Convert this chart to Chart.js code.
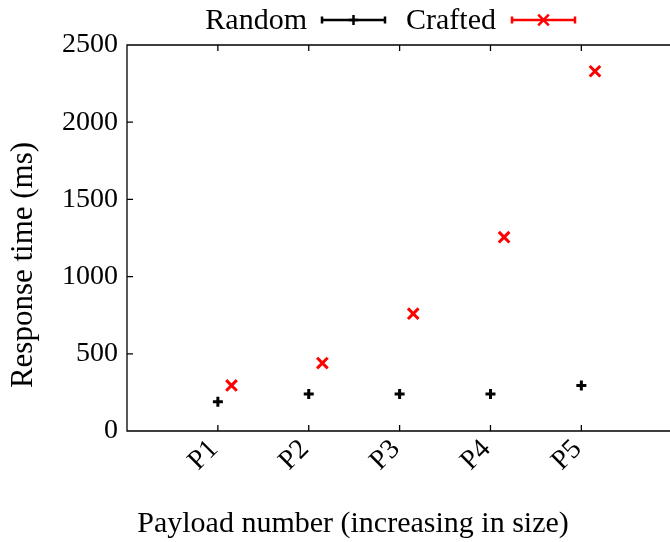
<!DOCTYPE html>
<html>
<head>
<meta charset="utf-8">
<script src="https://cdn.jsdelivr.net/npm/chart.js@4"></script>
<style>
  html, body { margin: 0; padding: 0; background: #fff; }
</style>
</head>
<body>
<canvas id="chart" width="670" height="542"></canvas>
<script>
const payloads = ['P1', 'P2', 'P3', 'P4', 'P5'];
const randomMs = [190, 240, 240, 240, 295];
const craftedMs = [295, 440, 760, 1255, 2330];
const yTicks = [0, 500, 1000, 1500, 2000, 2500];

const serif = '"Liberation Serif", "DejaVu Serif", serif';
const craftedShift = 0.15;

function toPoints(values, dx) {
  return values.map((v, i) => ({ x: i + 1 + dx, y: v }));
}

// gnuplot-like frame: left/top/bottom border running off the right edge, inward ticks
const framePlugin = {
  id: 'frame',
  afterDraw(chart) {
    const { ctx, chartArea: a, scales: { x, y } } = chart;
    const right = chart.width;
    ctx.save();
    ctx.strokeStyle = '#000';
    ctx.lineWidth = 1.3;
    ctx.beginPath();
    ctx.moveTo(right, a.top);
    ctx.lineTo(a.left, a.top);
    ctx.lineTo(a.left, a.bottom);
    ctx.lineTo(right, a.bottom);
    payloads.forEach((_, i) => {
      const px = x.getPixelForValue(i + 1);
      ctx.moveTo(px, a.bottom);
      ctx.lineTo(px, a.bottom - 6);
      ctx.moveTo(px, a.top);
      ctx.lineTo(px, a.top + 6);
    });
    yTicks.forEach(v => {
      const py = y.getPixelForValue(v);
      ctx.moveTo(a.left, py);
      ctx.lineTo(a.left + 6, py);
    });
    ctx.stroke();

    // axis titles
    ctx.fillStyle = '#000';
    ctx.font = '30px ' + serif;
    ctx.textAlign = 'center';
    ctx.textBaseline = 'middle';
    ctx.fillText('Payload number (increasing in size)', 353, 524);
    ctx.translate(24, 265);
    ctx.rotate(-Math.PI / 2);
    ctx.font = '31px ' + serif;
    ctx.fillText('Response time (ms)', 0, 0);
    ctx.restore();
  }
};

// legend across the top: label text followed by an error-bar sample
const keyPlugin = {
  id: 'key',
  afterDraw(chart) {
    const { ctx } = chart;
    const items = [
      { ds: chart.data.datasets[0], textRight: 307, x0: 322, x1: 385 },
      { ds: chart.data.datasets[1], textRight: 496, x0: 512, x1: 575 }
    ];
    const cy = 20;
    ctx.save();
    ctx.font = '30px ' + serif;
    ctx.textAlign = 'right';
    ctx.textBaseline = 'middle';
    items.forEach(it => {
      const col = it.ds.borderColor;
      ctx.fillStyle = '#000';
      ctx.fillText(it.ds.label, it.textRight, cy + 1);
      ctx.strokeStyle = col;
      ctx.lineWidth = 2.5;
      ctx.beginPath();
      ctx.moveTo(it.x0, cy);
      ctx.lineTo(it.x1, cy);
      ctx.moveTo(it.x0, cy - 3.5);
      ctx.lineTo(it.x0, cy + 3.5);
      ctx.moveTo(it.x1, cy - 3.5);
      ctx.lineTo(it.x1, cy + 3.5);
      ctx.stroke();
      Chart.helpers.drawPoint(ctx, {
        pointStyle: it.ds.pointStyle,
        radius: it.ds.pointRadius,
        borderWidth: it.ds.borderWidth
      }, (it.x0 + it.x1) / 2, cy);
    });
    ctx.restore();
  }
};

new Chart(document.getElementById('chart'), {
  type: 'scatter',
  data: {
    datasets: [{
      label: 'Random',
      data: toPoints(randomMs, 0),
      pointStyle: 'cross',
      pointRadius: 5,
      pointHoverRadius: 5,
      borderWidth: 3,
      borderColor: '#000',
      backgroundColor: '#000'
    }, {
      label: 'Crafted',
      data: toPoints(craftedMs, craftedShift),
      pointStyle: 'crossRot',
      pointRadius: 7.5,
      pointHoverRadius: 7.5,
      borderWidth: 3,
      borderColor: '#ff0000',
      backgroundColor: '#ff0000'
    }]
  },
  options: {
    responsive: false,
    animation: false,
    devicePixelRatio: 1,
    layout: { padding: { top: 45, right: 0, left: 0, bottom: 0 } },
    plugins: {
      legend: { display: false },
      tooltip: { enabled: false }
    },
    scales: {
      x: {
        type: 'linear',
        min: 0,
        max: 5.86,
        grid: { display: false, drawTicks: false },
        border: { display: false },
        afterBuildTicks: axis => {
          axis.ticks = payloads.map((_, i) => ({ value: i + 1 }));
        },
        afterFit: s => {
          s.height = 111;
        },
        ticks: {
          autoSkip: false,
          minRotation: 45,
          maxRotation: 45,
          padding: 2,
          labelOffset: -4,
          color: '#000',
          font: { family: serif, size: 28 },
          callback: v => payloads[v - 1] || ''
        }
      },
      y: {
        min: 0,
        max: 2500,
        grid: { display: false, drawTicks: false },
        border: { display: false },
        afterFit: s => {
          s.width = 127;
        },
        ticks: {
          stepSize: 500,
          padding: 9,
          color: '#000',
          font: { family: serif, size: 28 },
          callback: v => String(v)
        }
      }
    }
  },
  plugins: [framePlugin, keyPlugin]
});
</script>
</body>
</html>
